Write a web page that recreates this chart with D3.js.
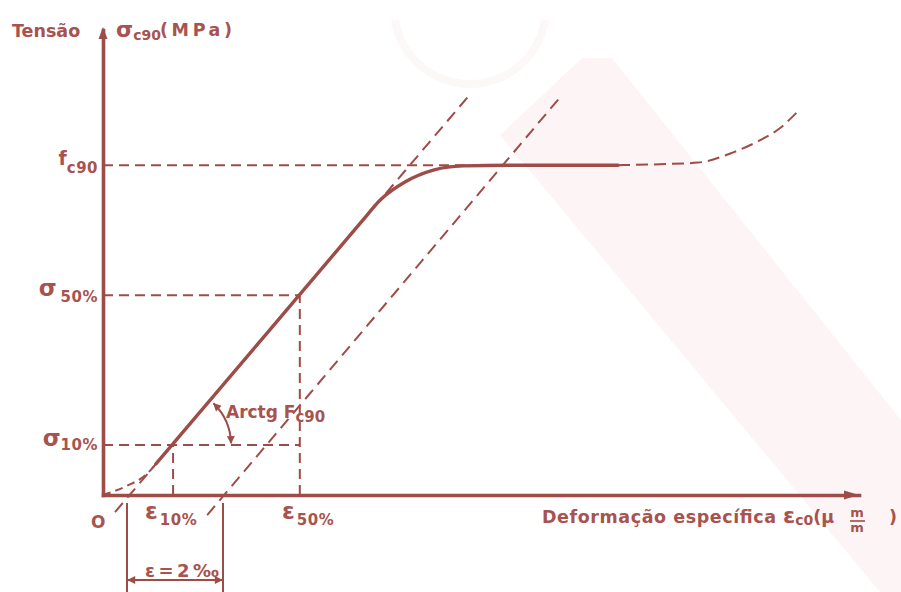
<!DOCTYPE html>
<html>
<head>
<meta charset="utf-8">
<script src="https://cdn.jsdelivr.net/npm/d3@7"></script>
<style>
  html, body { margin: 0; padding: 0; background: #ffffff; }
  svg { display: block; }
  text { font-family: "DejaVu Sans", Verdana, sans-serif; font-weight: bold; fill: #a8534e; }
</style>
</head>
<body>
<svg id="chart" width="901" height="592"></svg>
<script>
// Strain (x) in ‰-like units, stress (y) with f_c90 = 10
const levelNames  = ["f", "σ", "σ"];
const levelSubs   = ["c90", "50%", "10%"];
const levelValues = [10, 6.06, 1.515];     // f_c90, σ50%, σ10%
const levelEnds   = [7.6, 4.10, 4.10];     // strain where each guide stops

const strainNames  = ["ε", "ε"];
const strainSubs   = ["10%", "50%"];
const strainValues = [1.46, 4.10];         // ε10%, ε50%
const strainTops   = [1.515, 6.06];

// initial (toe) part of the curve, from the origin
const toeCurve = [[0, 0], [0.5, 0.28], [0.9, 0.62], [1.12, 0.97]];
// measured curve: linear branch, knee, plateau
const stressStrain = [[1.1, 0.94], [3.4, 4.88], [5.4, 8.31], [5.77, 8.94], [6.3, 9.5],
                      [6.9, 9.86], [7.5, 9.98], [8.5, 10], [10.73, 10]];
// extrapolated continuation after the plateau
const postPlateau = [[10.73, 10], [11.6, 10.03], [12.4, 10.08], [13.13, 10.39],
                     [13.69, 10.76], [14.10, 11.12], [14.46, 11.61]];
// tangent to the linear branch and the same line shifted by 2‰
const tangentLine = [[0.25, -0.52], [7.63, 12.12]];
const offsetLine  = [[2.17, -0.61], [9.5, 12.02]];
// 2‰ dimension between the two intercepts
const offsetTicks = [0.5, 2.5];
const offsetLabel = "ε=2‰";

const color = "#9e4c47";
const svg = d3.select("#chart");

const x = d3.scaleLinear().domain([0, 15.75]).range([103, 859]);
const y = d3.scaleLinear().domain([0, 14.1]).range([495, 30]);

// faint background watermark
const wm = svg.append("g").attr("class", "watermark");
wm.append("path")
  .attr("d", "M582,58 L612,58 L901,420 L901,592 L880,592 L500,135 Z")
  .attr("fill", "#fdf5f5");
wm.append("path")
  .attr("d", d3.arc()({innerRadius: 72, outerRadius: 80, startAngle: Math.PI * 0.55, endAngle: Math.PI * 1.45}))
  .attr("transform", "translate(470,8)")
  .attr("fill", "#fdf8f8");

const line = d3.line().x(d => x(d[0])).y(d => y(d[1]));
const smooth = d3.line().x(d => x(d[0])).y(d => y(d[1])).curve(d3.curveMonotoneX);

const dashed = sel => sel.attr("fill", "none").attr("stroke", color)
  .attr("stroke-width", 2).attr("stroke-dasharray", "10,6");

// horizontal guides
svg.append("g").selectAll("path").data(levelValues).join("path")
  .attr("d", (v, i) => line([[0, v], [levelEnds[i], v]]))
  .call(dashed);

// vertical guides
svg.append("g").selectAll("path").data(strainValues).join("path")
  .attr("d", (v, i) => line([[v, 0], [v, strainTops[i]]]))
  .call(dashed);

// tangent and offset lines
svg.append("path").attr("d", line(tangentLine)).call(dashed).attr("stroke-dasharray", "12,7");
svg.append("path").attr("d", line(offsetLine)).call(dashed).attr("stroke-dasharray", "12,7");

// toe and post-plateau dashed curves
svg.append("path").attr("d", smooth(toeCurve)).call(dashed).attr("stroke-dasharray", "8,5");
svg.append("path").attr("d", smooth(postPlateau)).call(dashed).attr("stroke-dasharray", "12,6");

// measured curve
svg.append("path").attr("d", smooth(stressStrain))
  .attr("fill", "none").attr("stroke", color).attr("stroke-width", 3.4)
  .attr("stroke-linecap", "round").attr("stroke-linejoin", "round");

// axes
const xAxis = svg.append("g").attr("transform", `translate(0,${y(0)})`)
  .call(d3.axisBottom(x).tickValues([]).tickSizeOuter(0));
const yAxis = svg.append("g").attr("transform", `translate(${x(0)},0)`)
  .call(d3.axisLeft(y).tickValues([]).tickSizeOuter(0));
[xAxis, yAxis].forEach(a => a.select(".domain")
  .attr("stroke", color).attr("stroke-width", 3.6).attr("stroke-linecap", "square"));

const xEnd = x(15.75), y0 = y(0), yTop = y(14.1);
svg.append("path")
  .attr("d", `M${xEnd},${y0} L${xEnd - 15},${y0 - 4.5} L${xEnd - 15},${y0 + 4.5} Z`)
  .attr("fill", color);
svg.append("path")
  .attr("d", `M${x(0)},${yTop - 3} L${x(0) - 4.5},${yTop + 9} L${x(0) + 4.5},${yTop + 9} Z`)
  .attr("fill", color);

// 2‰ dimension
const dimTop = y(-0.24), dimBottom = 592, dimY = 580;
svg.append("g").selectAll("line").data(offsetTicks).join("line")
  .attr("x1", d => x(d)).attr("x2", d => x(d))
  .attr("y1", dimTop).attr("y2", dimBottom)
  .attr("stroke", color).attr("stroke-width", 2);

const defs = svg.append("defs");
defs.append("marker").attr("id", "head")
  .attr("viewBox", "0 0 10 10").attr("refX", 9).attr("refY", 5)
  .attr("markerWidth", 12).attr("markerHeight", 8).attr("markerUnits", "userSpaceOnUse")
  .attr("orient", "auto-start-reverse")
  .append("path").attr("d", "M0,0 L10,5 L0,10 Z").attr("fill", color);

svg.append("line")
  .attr("x1", x(offsetTicks[0]) + 1).attr("x2", x(offsetTicks[1]) - 1)
  .attr("y1", dimY).attr("y2", dimY)
  .attr("stroke", color).attr("stroke-width", 2)
  .attr("marker-start", "url(#head)").attr("marker-end", "url(#head)");

// angle arc (Arctg F_c90) between the tangent and the σ10% guide
const cx = x(strainValues[0]), cy = y(levelValues[2]);
const theta = Math.atan2(y(tangentLine[1][1]) - y(tangentLine[0][1]),
                         x(tangentLine[1][0]) - x(tangentLine[0][0]));
const r = 58;
const arcPath = d3.path();
arcPath.arc(cx, cy, r, theta + 0.07, -0.03, false);
svg.append("path").attr("d", arcPath.toString())
  .attr("fill", "none").attr("stroke", color).attr("stroke-width", 2)
  .attr("marker-start", "url(#head)").attr("marker-end", "url(#head)");

// ---- labels ----
function label(xp, yp, parts, anchor) {
  const t = svg.append("text").attr("x", xp).attr("y", yp)
    .attr("text-anchor", anchor || "start");
  parts.forEach(p => {
    const s = t.append("tspan").text(p.t).attr("font-size", p.s || 17);
    if (p.dy) s.attr("dy", p.dy);
    if (p.dx) s.attr("dx", p.dx);
    if (p.ls) s.attr("letter-spacing", p.ls);
  });
  return t;
}

// y-axis title
label(12, 37, [{t: "Tensão", s: 17.5}]);
label(116, 37, [{t: "σ", s: 22}, {t: "c90", s: 14, dy: 3}]);
label(160, 36, [{t: "(MPa)", s: 17.5}]).attr("textLength", 72).attr("lengthAdjust", "spacing");

// level labels on the stress axis
const levelOffsets = [[0, 8], [4, 6], [0, 4]];
levelValues.forEach((v, i) => {
  label(x(0) - 5, y(v) + (i === 0 ? 0 : 1),
        [{t: levelNames[i], s: i === 0 ? 19 : 23},
         {t: levelSubs[i], s: 15, dy: levelOffsets[i][1], dx: levelOffsets[i][0], ls: 0.5}], "end");
});

// strain labels
const strainLabelX = [145, 282];
strainValues.forEach((v, i) => {
  label(strainLabelX[i], 519, [{t: strainNames[i], s: 23}, {t: strainSubs[i], s: 15, dy: 6, dx: 2, ls: 0.5}]);
});

// origin
label(91, 528, [{t: "O", s: 17}]);

// 2‰ label
label(145, 577, [{t: offsetLabel, s: 18}]).attr("textLength", 74).attr("lengthAdjust", "spacing");

// angle label
label(226, 418, [{t: "Arctg F", s: 17}, {t: "c90", s: 15, dy: 4}]);

// x-axis title
label(542, 523, [{t: "Deformação específica", s: 17.5}])
  .attr("textLength", 234).attr("lengthAdjust", "spacing");
label(783, 523, [{t: "ε", s: 22}, {t: "c0", s: 14, dy: 2}, {t: "(μ", s: 17.5, dy: -2}]);
label(857, 517, [{t: "m", s: 13}], "middle");
svg.append("line").attr("x1", 850).attr("x2", 865).attr("y1", 521).attr("y2", 521)
  .attr("stroke", color).attr("stroke-width", 1.6);
label(857, 532, [{t: "m", s: 13}], "middle");
label(889, 523, [{t: ")", s: 17.5}]);
</script>
</body>
</html>
